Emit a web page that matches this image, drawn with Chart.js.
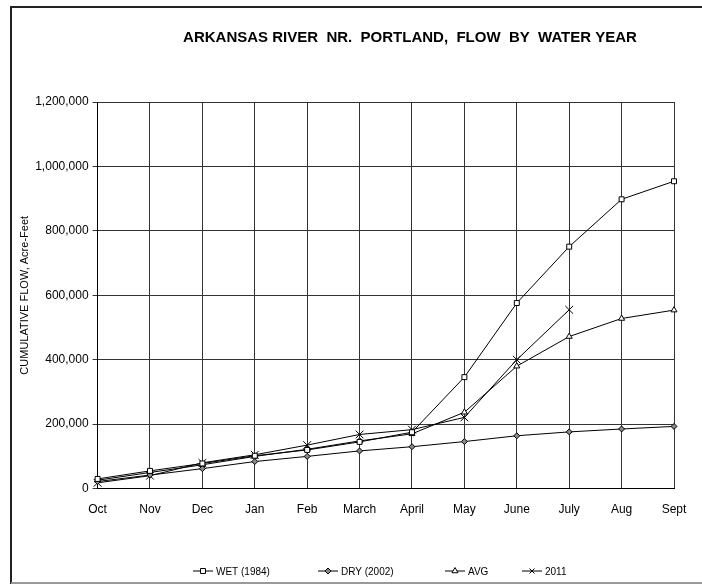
<!DOCTYPE html>
<html>
<head>
<meta charset="utf-8">
<script src="https://cdn.jsdelivr.net/npm/chart.js@4/dist/chart.umd.min.js"></script>
<style>
  html, body { margin: 0; padding: 0; background: #fff; }
  #wrap { position: relative; width: 702px; height: 584px; }
</style>
</head>
<body>
<div id="wrap"><canvas id="cv" width="702" height="584"></canvas></div>
<script>
// ── Data (acre-feet cumulative) ──
const months = ['Oct', 'Nov', 'Dec', 'Jan', 'Feb', 'March', 'April', 'May', 'June', 'July', 'Aug', 'Sept'];
const wet1984 = [30000, 55000, 78000, 102000, 120000, 145000, 175000, 346000, 576000, 751000, 898000, 954000];
const dry2002 = [22000, 42000, 62000, 84000, 100000, 117000, 130000, 146000, 164000, 176000, 185000, 193000];
const avgFlow = [26000, 50000, 74000, 100000, 122000, 148000, 170000, 237000, 380000, 472000, 528000, 554000];
const wy2011  = [18000, 40000, 80000, 105000, 135000, 168000, 183000, 221000, 400000, 555000, null, null];
const yTicks  = [0, 200000, 400000, 600000, 800000, 1000000, 1200000];

const TITLE = 'ARKANSAS RIVER  NR.  PORTLAND,  FLOW  BY  WATER YEAR';
const FONT = '"Liberation Sans", Arial, sans-serif';

// ── Series styling ──
function series(label, data, style, radius, bg) {
  return {
    label, data,
    borderColor: '#000', borderWidth: 1,
    pointStyle: style, pointRadius: radius, pointHoverRadius: radius,
    pointBorderColor: '#000', pointBorderWidth: 1,
    pointBackgroundColor: bg,
    tension: 0, spanGaps: false,
  };
}

const datasets = [
  series('WET (1984)', wet1984, 'rect', 3.5, '#fff'),
  series('DRY (2002)', dry2002, 'rectRot', 3, '#888'),
  series('AVG', avgFlow, 'triangle', 3.5, '#fff'),
  series('2011', wy2011, 'crossRot', 5.5, '#000'),
];

// ── Frame, title and legend drawn around the chart ──
const decor = {
  id: 'decor',
  afterDraw(chart) {
    const ctx = chart.ctx;
    ctx.save();
    // outer frame (open on the right, as in the reference)
    ctx.strokeStyle = '#222';
    ctx.lineWidth = 2;
    ctx.beginPath();
    ctx.moveTo(702, 7); ctx.lineTo(11, 7); ctx.lineTo(11, 584);
    ctx.stroke();
    ctx.strokeStyle = '#999';
    ctx.beginPath();
    ctx.moveTo(11, 583); ctx.lineTo(702, 583);
    ctx.stroke();

    // title
    ctx.fillStyle = '#000';
    ctx.font = 'bold 15px ' + FONT;
    ctx.textAlign = 'center';
    ctx.textBaseline = 'middle';
    ctx.fillText(TITLE, 410, 38);

    // legend: line with marker, then label
    const slots = [193, 318, 445, 522];
    const ly = 571;
    ctx.font = '10px ' + FONT;
    ctx.textAlign = 'left';
    chart.data.datasets.forEach((ds, i) => {
      const x = slots[i];
      ctx.strokeStyle = '#000';
      ctx.lineWidth = 1;
      ctx.beginPath();
      ctx.moveTo(x, ly); ctx.lineTo(x + 20, ly);
      ctx.stroke();
      ctx.fillStyle = ds.pointBackgroundColor;
      Chart.helpers.drawPoint(ctx, {
        pointStyle: ds.pointStyle,
        radius: Math.min(ds.pointRadius, 3.5),
        borderWidth: 1, rotation: 0,
      }, x + 10, ly);
      ctx.fillStyle = '#000';
      ctx.fillText(ds.label, x + 23, ly + 1);
    });
    ctx.restore();
  },
};

const ctx = document.getElementById('cv');
new Chart(ctx, {
  type: 'line',
  data: { labels: months, datasets },
  plugins: [decor],
  options: {
    responsive: false, animation: false,
    layout: { padding: { top: 102, bottom: 53, left: 18, right: 28 } },
    plugins: { legend: { display: false }, title: { display: false }, tooltip: { enabled: false } },
    scales: {
      x: {
        offset: false,
        grid: { color: '#333', lineWidth: 1, drawTicks: false },
        border: { color: '#000', width: 1 },
        ticks: { color: '#000', font: { family: FONT, size: 12 }, padding: 14, maxRotation: 0, autoSkip: false },
      },
      y: {
        min: 0, max: 1200000,
        afterBuildTicks: axis => { axis.ticks = yTicks.map(v => ({ value: v })); },
        grid: { color: '#333', lineWidth: 1, tickLength: 5 },
        border: { color: '#000', width: 1 },
        ticks: {
          color: '#000', font: { family: FONT, size: 12 }, padding: 4,
          callback: v => v.toLocaleString('en-US'),
        },
        title: {
          display: true, text: 'CUMULATIVE FLOW, Acre-Feet',
          color: '#000', font: { family: FONT, size: 11 }, padding: { top: 0, bottom: 0 },
        },
      },
    },
  },
});
</script>
</body>
</html>
